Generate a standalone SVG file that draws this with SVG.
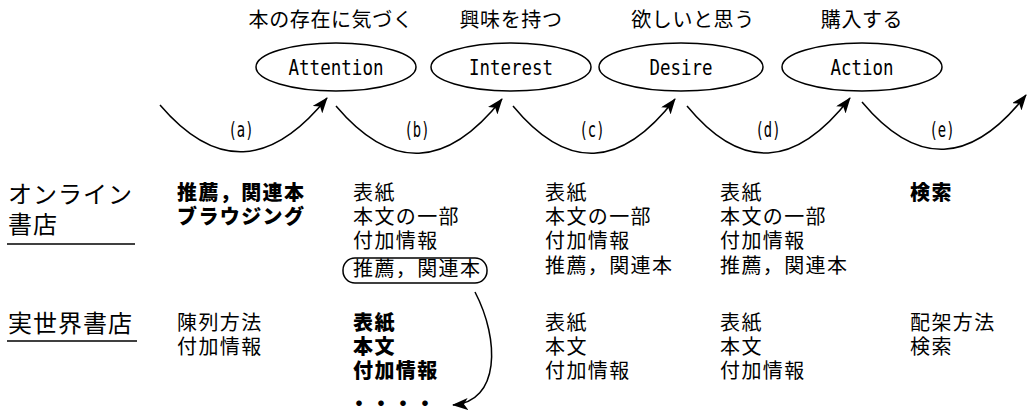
<svg xmlns="http://www.w3.org/2000/svg" width="1027" height="412" viewBox="0 0 1027 412">
<defs>
<style>
.jp{font-family:"Noto Sans CJK JP","Noto Sans",sans-serif;fill:#000}
.h{font-size:20px;letter-spacing:0.6px}
.big{font-size:24px;letter-spacing:1px}
.c{font-size:20px;letter-spacing:1.4px}
.b{font-weight:900}
.mono{font-family:"DejaVu Sans Mono","Liberation Mono",monospace;fill:#000}
.st{font-size:22px}
.lb{font-size:21px}
.el{fill:#fff;stroke:#000;stroke-width:1.5}
.ln{fill:none;stroke:#000;stroke-width:1.5}
</style>
<marker id="ah" viewBox="0 0 16 12" refX="15" refY="6" markerWidth="16" markerHeight="12" markerUnits="userSpaceOnUse" orient="auto">
<path d="M0,0 L16,6 L0,12 L4,6 Z" fill="#000"/>
</marker>
</defs>
<rect width="1027" height="412" fill="#fff"/>

<g id="labels-top" class="jp h">
<text x="331" y="27" text-anchor="middle">本の存在に気づく</text>
<text x="511" y="27" text-anchor="middle">興味を持つ</text>
<text x="693" y="27" text-anchor="middle">欲しいと思う</text>
<text x="862" y="27" text-anchor="middle">購入する</text>
</g>

<g id="attention">
<ellipse class="el" cx="336" cy="67" rx="80" ry="24"/>
<text class="mono st" x="336" y="75" text-anchor="middle" textLength="95" lengthAdjust="spacingAndGlyphs">Attention</text>
</g>
<g id="interest">
<ellipse class="el" cx="511" cy="67" rx="80" ry="24"/>
<text class="mono st" x="511" y="75" text-anchor="middle" textLength="84" lengthAdjust="spacingAndGlyphs">Interest</text>
</g>
<g id="desire">
<ellipse class="el" cx="681" cy="67" rx="82" ry="24"/>
<text class="mono st" x="681" y="75" text-anchor="middle" textLength="63" lengthAdjust="spacingAndGlyphs">Desire</text>
</g>
<g id="action">
<ellipse class="el" cx="862" cy="67" rx="80" ry="24"/>
<text class="mono st" x="862" y="75" text-anchor="middle" textLength="63" lengthAdjust="spacingAndGlyphs">Action</text>
</g>

<g id="connectors">
<path class="ln" marker-end="url(#ah)" d="M160,105 Q243,202 327,98"/>
<path class="ln" marker-end="url(#ah)" d="M336,106 Q419,204 502,99"/>
<path class="ln" marker-end="url(#ah)" d="M513,106 Q594,204 675,99"/>
<path class="ln" marker-end="url(#ah)" d="M687,106 Q768,204 850,98"/>
<path class="ln" marker-end="url(#ah)" d="M862,102 Q944,200 1026,95"/>
<path class="ln" marker-end="url(#ah)" d="M475,292 C500,340 500,402 453,405"/>
</g>

<g id="arc-labels" class="mono lb">
<text x="241" y="137" text-anchor="middle" textLength="25" lengthAdjust="spacingAndGlyphs">(a)</text>
<text x="417" y="137" text-anchor="middle" textLength="25" lengthAdjust="spacingAndGlyphs">(b)</text>
<text x="592" y="137" text-anchor="middle" textLength="25" lengthAdjust="spacingAndGlyphs">(c)</text>
<text x="768" y="137" text-anchor="middle" textLength="25" lengthAdjust="spacingAndGlyphs">(d)</text>
<text x="942" y="137" text-anchor="middle" textLength="25" lengthAdjust="spacingAndGlyphs">(e)</text>
</g>

<g id="online-header">
<text class="jp big" x="8" y="203">オンライン</text>
<text class="jp big" x="8" y="233">書店</text>
<line class="ln" x1="7" y1="244" x2="135" y2="244"/>
</g>
<g id="real-header">
<text class="jp big" x="8" y="332">実世界書店</text>
<line class="ln" x1="7" y1="341" x2="137" y2="341"/>
</g>

<g id="online-a" class="jp c b">
<text x="177" y="200">推薦，関連本</text>
<text x="177" y="224">ブラウジング</text>
</g>
<g id="online-b" class="jp c">
<text x="353" y="200">表紙</text>
<text x="353" y="224">本文の一部</text>
<text x="353" y="248">付加情報</text>
<rect class="ln" x="343" y="258" width="144" height="25" rx="12"/>
<text x="353" y="276">推薦，関連本</text>
</g>
<g id="online-c" class="jp c">
<text x="545" y="200">表紙</text>
<text x="545" y="224">本文の一部</text>
<text x="545" y="248">付加情報</text>
<text x="545" y="273">推薦，関連本</text>
</g>
<g id="online-d" class="jp c">
<text x="720" y="200">表紙</text>
<text x="720" y="224">本文の一部</text>
<text x="720" y="248">付加情報</text>
<text x="720" y="273">推薦，関連本</text>
</g>
<g id="online-e" class="jp c b">
<text x="910" y="200">検索</text>
</g>

<g id="real-a" class="jp c">
<text x="177" y="330">陳列方法</text>
<text x="177" y="354">付加情報</text>
</g>
<g id="real-b" class="jp c b">
<text x="353" y="330">表紙</text>
<text x="353" y="354">本文</text>
<text x="353" y="378">付加情報</text>
<text x="349" y="411" letter-spacing="2">・・・・</text>
</g>
<g id="real-c" class="jp c">
<text x="545" y="330">表紙</text>
<text x="545" y="354">本文</text>
<text x="545" y="378">付加情報</text>
</g>
<g id="real-d" class="jp c">
<text x="720" y="330">表紙</text>
<text x="720" y="354">本文</text>
<text x="720" y="378">付加情報</text>
</g>
<g id="real-e" class="jp c">
<text x="910" y="330">配架方法</text>
<text x="910" y="354">検索</text>
</g>
</svg>
